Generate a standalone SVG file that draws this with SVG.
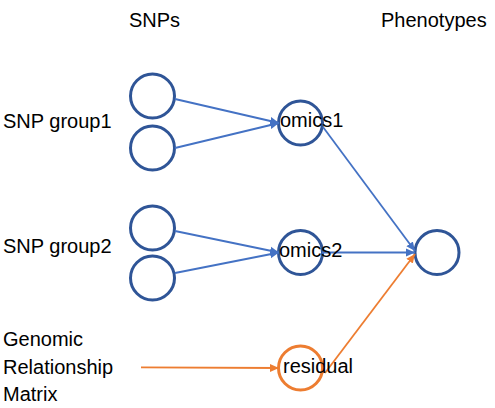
<svg xmlns="http://www.w3.org/2000/svg" width="495" height="408" viewBox="0 0 495 408">
<style>
text{font-family:"Liberation Sans",Arial,sans-serif;font-size:20px;fill:#000}
.n{fill:#fff;stroke:#2F5597;stroke-width:3}
.o{fill:#fff;stroke:#ED7D31;stroke-width:3}
.b{stroke:#4472C4;stroke-width:1.8;fill:none;marker-end:url(#ab)}
.r{stroke:#ED7D31;stroke-width:1.8;fill:none;marker-end:url(#ar)}
</style>
<defs>
<marker id="ab" markerUnits="userSpaceOnUse" markerWidth="10" markerHeight="10" viewBox="0 0 10 10" refX="9" refY="5" orient="auto"><path d="M0,1 L9,5 L0,9 Z" fill="#4472C4"/></marker>
<marker id="ar" markerUnits="userSpaceOnUse" markerWidth="10" markerHeight="10" viewBox="0 0 10 10" refX="9" refY="5" orient="auto"><path d="M0,1 L9,5 L0,9 Z" fill="#ED7D31"/></marker>
</defs>
<rect width="495" height="408" fill="#fff"/>
<text x="129" y="27">SNPs</text>
<text x="381" y="27">Phenotypes</text>
<text x="3" y="128">SNP group1</text>
<text x="3" y="253">SNP group2</text>
<text x="3" y="346">Genomic</text>
<text x="3" y="374">Relationship</text>
<text x="3" y="401">Matrix</text>
<g id="snp1"><circle class="n" cx="152.5" cy="96" r="22"/></g>
<g id="snp2"><circle class="n" cx="152.5" cy="148" r="22"/></g>
<g id="snp3"><circle class="n" cx="152.5" cy="228" r="22"/></g>
<g id="snp4"><circle class="n" cx="152.5" cy="278" r="22"/></g>
<g id="omics1"><circle class="n" cx="300.5" cy="123" r="22"/></g>
<g id="omics2"><circle class="n" cx="300.5" cy="252.5" r="22"/></g>
<g id="residual"><circle class="o" cx="300.5" cy="368" r="22"/></g>
<g id="phenotype"><circle class="n" cx="437" cy="252.5" r="22"/></g>
<g id="connectors">
<line class="b" x1="175" y1="99" x2="279" y2="123"/>
<line class="b" x1="175" y1="148" x2="279" y2="123"/>
<line class="b" x1="175" y1="231" x2="279" y2="252.5"/>
<line class="b" x1="175" y1="273" x2="279" y2="252.5"/>
<line class="b" x1="323" y1="127" x2="415" y2="251"/>
<line class="b" x1="322" y1="252.5" x2="415" y2="252.5"/>
<line class="r" x1="325" y1="373" x2="415" y2="254"/>
<line class="r" x1="141" y1="367.3" x2="279" y2="368"/>
</g>
<g id="labels">
<text x="280" y="127">omics1</text>
<text x="279" y="257">omics2</text>
<text x="283" y="373">residual</text>
</g>
</svg>
